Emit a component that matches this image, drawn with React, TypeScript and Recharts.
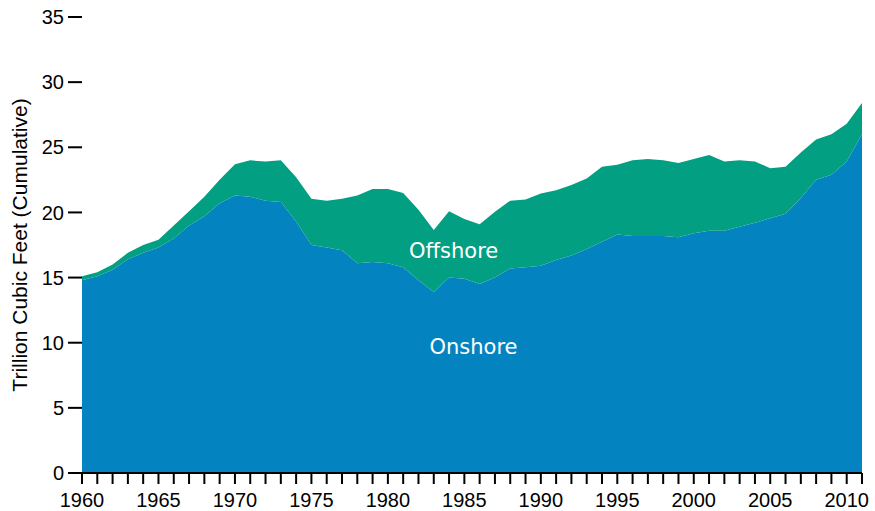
import { AreaChart, Area, XAxis, YAxis, ReferenceDot } from 'recharts';

const years = [
  1960, 1961, 1962, 1963, 1964, 1965, 1966, 1967, 1968, 1969,
  1970, 1971, 1972, 1973, 1974, 1975, 1976, 1977, 1978, 1979,
  1980, 1981, 1982, 1983, 1984, 1985, 1986, 1987, 1988, 1989,
  1990, 1991, 1992, 1993, 1994, 1995, 1996, 1997, 1998, 1999,
  2000, 2001, 2002, 2003, 2004, 2005, 2006, 2007, 2008, 2009,
  2010, 2011,
];

// trillion cubic feet
const onshore = [
  14.8, 15.1, 15.6, 16.4, 16.9, 17.3, 18.0, 19.0, 19.7, 20.7,
  21.3, 21.2, 20.9, 20.8, 19.3, 17.5, 17.3, 17.1, 16.1, 16.2,
  16.1, 15.8, 14.8, 13.9, 15.0, 14.9, 14.5, 15.0, 15.7, 15.8,
  15.9, 16.35, 16.7, 17.2, 17.75, 18.3, 18.2, 18.2, 18.2, 18.1,
  18.4, 18.6, 18.6, 18.9, 19.2, 19.55, 19.9, 21.1, 22.5, 22.9,
  23.9, 26.0,
];

const total = [
  15.1, 15.4, 16.0, 16.9, 17.5, 17.9, 19.0, 20.1, 21.2, 22.5,
  23.7, 24.0, 23.9, 24.0, 22.7, 21.05, 20.9, 21.05, 21.3, 21.8,
  21.8, 21.5, 20.2, 18.65, 20.1, 19.5, 19.1, 20.05, 20.9, 21.0,
  21.45, 21.7, 22.1, 22.6, 23.5, 23.65, 24.0, 24.1, 24.0, 23.8,
  24.1, 24.4, 23.9, 24.0, 23.9, 23.4, 23.5, 24.6, 25.6, 26.0,
  26.8, 28.4,
];

const offshore = total.map((t, i) => +(t - onshore[i]).toFixed(2));

const yTicks = [0, 5, 10, 15, 20, 25, 30, 35];
const labelYears = [1960, 1965, 1970, 1975, 1980, 1985, 1990, 1995, 2000, 2005, 2010];

const data = years.map((year, i) => ({
  year,
  onshore: onshore[i],
  offshore: offshore[i],
}));

const FONT = '"Liberation Sans", Arial, sans-serif';
const LABEL_FONT = '"DejaVu Sans", sans-serif';

export default function App() {
  return (
    <div style={{ position: 'absolute', left: 0, top: 0, background: '#fff' }}>
      <AreaChart
        width={875}
        height={511}
        data={data}
        margin={{ top: 17, right: 13, bottom: 8, left: 0 }}
      >
        <XAxis
          dataKey="year"
          type="number"
          domain={[1960, 2011]}
          ticks={years}
          interval={0}
          height={30}
          tickFormatter={(v: number) => (labelYears.includes(v) ? String(v) : '')}
          tick={{ fill: '#000', fontSize: 20, fontFamily: FONT }}
          tickLine={{ stroke: '#000', strokeWidth: 2 }}
          axisLine={{ stroke: '#000', strokeWidth: 2 }}
          tickSize={11}
          tickMargin={9}
        />
        <YAxis
          type="number"
          domain={[0, 35]}
          ticks={yTicks}
          width={82}
          axisLine={false}
          tickLine={{ stroke: '#000', strokeWidth: 2 }}
          tickSize={14}
          tickMargin={4}
          tick={{ fill: '#000', fontSize: 20, fontFamily: FONT }}
          label={{
            value: 'Trillion Cubic Feet (Cumulative)',
            angle: -90,
            position: 'insideLeft',
            offset: 20,
            style: { textAnchor: 'middle', fill: '#000', fontSize: 21, fontFamily: FONT },
          }}
        />
        <Area
          type="linear"
          dataKey="onshore"
          stackId="a"
          stroke="none"
          fill="#0384c0"
          fillOpacity={1}
          isAnimationActive={false}
        />
        <Area
          type="linear"
          dataKey="offshore"
          stackId="a"
          stroke="none"
          fill="#039f82"
          fillOpacity={1}
          isAnimationActive={false}
        />
        <ReferenceDot
          x={1984.3}
          y={17.1}
          r={0}
          fill="none"
          stroke="none"
          label={{ value: 'Offshore', position: 'center', fill: '#fff', fontSize: 21, fontFamily: LABEL_FONT }}
        />
        <ReferenceDot
          x={1985.6}
          y={9.67}
          r={0}
          fill="none"
          stroke="none"
          label={{ value: 'Onshore', position: 'center', fill: '#fff', fontSize: 21, fontFamily: LABEL_FONT }}
        />
      </AreaChart>
    </div>
  );
}
